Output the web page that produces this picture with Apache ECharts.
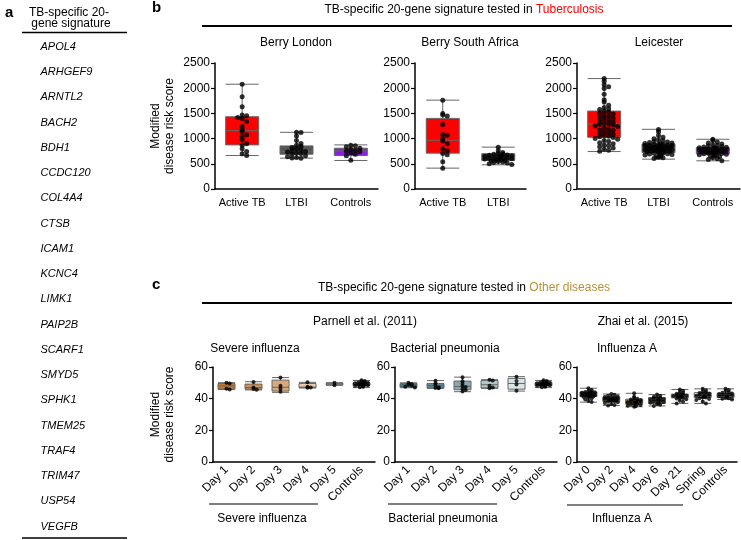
<!DOCTYPE html>
<html><head><meta charset="utf-8">
<script src="https://cdn.jsdelivr.net/npm/echarts@6/dist/echarts.min.js"></script>
<style>html,body{margin:0;padding:0;background:#fff}#chart{width:741px;height:540px}</style>
</head><body><div id="chart"></div><script>
// ---------------- DATA ----------------
const genes = ['APOL4','ARHGEF9','ARNTL2','BACH2','BDH1','CCDC120','COL4A4','CTSB','ICAM1','KCNC4','LIMK1','PAIP2B','SCARF1','SMYD5','SPHK1','TMEM25','TRAF4','TRIM47','USP54','VEGFB'];

const bYMax = 2500, bYStep = 500;
const cYMax = 60, cYStep = 20;

// Berry London
const londonCats = ['Active TB','LTBI','Controls'];
const londonBox = [[664,875,1158,1434,2079],[612,690,740,855,1125],[566,664,757,809,875]];
const londonActive = [2080,1830,1630,1470,1455,1420,1400,1340,1240,1175,1140,1075,1040,975,900,870,800,745,700,665];
const londonLTBI = [1125,1120,1050,960,905,870,850,825,800,780,760,745,735,720,705,690,660,640,625,612,615];
const londonCtrl = [870,860,840,810,790,765,750,740,720,690,660,568];

// Berry South Africa
const saCats = ['Active TB','LTBI'];
const saBox = [[414,711,967,1401,1763],[480,565,630,700,830]];
const saActive = [1760,1500,1470,1450,1280,1080,1065,1000,950,900,800,760,705,680,540,412];
const saLTBI = [830,760,725,705,695,688,676,668,660,652,646,640,633,628,621,614,607,600,594,588,581,572,563,556,548,538,527,515,500,485];

// Leicester
const leiCats = ['Active TB','LTBI','Controls'];
const leiBox = [[743,1026,1289,1546,2191],[592,724,809,895,1184],[559,697,763,822,987]];
const leiActive = [2190,2140,2070,2030,1995,1880,1770,1725,1660,1615,1590,1575,1548,1530,1505,1490,1462,1445,1430,1405,1388,1362,1345,1330,1305,1292,1284,1270,1252,1238,1215,1190,1172,1160,1138,1120,1096,1080,1062,1048,1035,1020,1002,985,962,944,920,900,875,860,838,815,790,770,748];
const leiLTBI = [1182,1135,1062,1025,995,975,958,944,932,921,912,903,896,890,883,876,870,864,858,852,847,842,836,831,826,821,816,811,806,801,796,792,787,782,777,772,767,762,757,752,746,740,734,728,722,716,709,701,693,684,675,664,652,641,630,618,606];
const leiCtrl = [985,962,935,912,893,876,862,851,842,833,826,820,814,808,802,797,792,787,782,777,773,768,764,760,755,751,746,741,736,731,726,720,715,709,703,697,690,682,673,664,652,638,621,602,585,562];

// Parnell: severe influenza
const sevCats = ['Day 1','Day 2','Day 3','Day 4','Day 5','Controls'];
const sevBox = [[45.8,46,48,49.6,50.1],[45.5,46,47,49.2,50.7],[44,44.8,47.2,51.7,53.3],[46.8,46.9,47.3,49.6,50.3],[48.4,48.8,49.3,49.7,50.1],[47,48.3,49,50,51.5]];
const sevDay1 = [50.0,49.6,46.2,45.8];
const sevDay2 = [50.6,47.0,46.1,45.6];
const sevDay3 = [53.4,48.1,46.4,44.3];
const sevDay4 = [50.3,47.6,47.0,46.9];
const sevDay5 = [50.1,48.5];
const parnellCtrl = [51.6,51.1,50.8,50.5,50.2,50.0,49.8,49.6,49.4,49.3,49.1,48.9,48.8,48.6,48.4,48.2,47.9,47.6,47.2];

// Parnell: bacterial pneumonia
const bacCats = ['Day 1','Day 2','Day 3','Day 4','Day 5','Controls'];
const bacBox = [[46.9,47.3,48.4,49.6,50.0],[46.5,46.8,48.3,49.6,51.4],[44.4,45.6,47.7,51.1,53.6],[46.5,46.8,48.8,51.5,52.0],[44.8,46.0,49.6,52.8,53.9],[47,48.3,49,50,51.5]];
const bacDay1 = [50.0,49.3,48.8,48.2,47.6,47.0];
const bacDay2 = [51.3,49.8,48.4,47.1,46.8,46.6];
const bacDay3 = [53.5,51.0,49.4,48.0,47.3,46.2,45.4,44.6];
const bacDay4 = [52.0,51.4,48.1,47.0,46.6];
const bacDay5 = [53.8,51.2,49.0,45.0];

// Zhai: influenza A
const fluCats = ['Day 0','Day 2','Day 4','Day 6','Day 21','Spring','Controls'];
const fluBox = [[37.8,41.3,42.6,44.2,46.6],[35.7,38.2,39.5,41.0,42.9],[34.9,36.5,38.0,39.7,43.4],[35.4,37.0,38.8,40.7,42.6],[37.0,40.5,41.6,42.9,45.8],[37.0,40.7,42.0,43.8,46.2],[39.5,40.7,42.0,43.4,46.2]];
const fluDay0 = [46.6,45.4,44.9,44.5,44.2,44.0,43.7,43.5,43.3,43.0,42.8,42.7,42.5,42.3,42.1,41.9,41.7,41.5,41.3,41.0,40.6,40.1,39.4,38.6,37.9];
const fluDay2 = [42.9,42.4,41.8,41.4,41.1,40.9,40.6,40.3,40.0,39.8,39.6,39.4,39.2,39.0,38.7,38.4,38.2,37.8,37.3,36.6,36.0,35.7];
const fluDay4 = [43.4,41.2,40.5,39.9,39.5,39.1,38.8,38.5,38.2,38.0,37.8,37.5,37.2,36.9,36.6,36.3,36.0,35.6,35.2,34.9];
const fluDay6 = [42.6,41.8,41.2,40.8,40.5,40.1,39.7,39.4,39.1,38.8,38.5,38.2,37.9,37.5,37.1,36.7,36.1,35.4];
const fluDay21 = [45.8,45.0,44.2,43.6,43.1,42.8,42.5,42.2,41.9,41.7,41.5,41.2,41.0,40.8,40.5,40.1,39.6,38.9,38.1,37.0];
const fluSpring = [46.2,45.3,44.6,44.0,43.6,43.2,42.9,42.6,42.3,42.0,41.8,41.5,41.2,40.9,40.7,40.3,39.8,39.1,38.2,37.0];
const fluCtrl = [46.2,45.4,44.8,44.1,43.7,43.3,43.0,42.7,42.4,42.1,41.9,41.6,41.3,41.0,40.7,40.3,39.9,39.5];

// ---------------- STYLE ----------------
const FONT = "'Liberation Sans', Arial, Helvetica, sans-serif";
const colB3 = ['#ff0000','#555555','#8b1fe0'];
const colB2 = ['#ff0000','#555555'];
const colSev = ['#c8772b','#d39150','#dba979','#ecccaa','#f6e9da','#ffffff'];
const colBac = ['#3f6d7c','#5a8796','#88a9b4','#b0c6cd','#d8e4e7','#ffffff'];
const colFlu = ['#3e3418','#7e6a36','#a58c55','#c5b187','#e0d5bc','#eee8dc','#ffffff'];

const grids = [
  {left:215, top:63, width:163, height:126},
  {left:415, top:63, width:111, height:126},
  {left:577, top:63, width:163, height:126},
  {left:213, top:367, width:162, height:95},
  {left:395, top:367, width:162, height:95},
  {left:577, top:367, width:160, height:95}
];

function swarm(vals, catIdx, bin, step, maxHalf) {
  const counts = {};
  const slots = 2 * Math.floor(maxHalf / step) + 1;
  return vals.map(v => {
    const key = Math.round(v / bin);
    const k = counts[key] = (counts[key] === undefined ? 0 : counts[key] + 1);
    const layer = Math.floor(k / slots), kk = k % slots;
    let off = kk === 0 ? 0 : (kk % 2 ? 1 : -1) * Math.ceil(kk / 2) * step;
    if (layer % 2 === 1) off += (off > 0 ? -step / 2 : step / 2);
    return {value: [catIdx, v], symbolOffset: [off, 0]};
  });
}

const panels = [
  {cats: londonCats, box: londonBox, pts: [londonActive, londonLTBI, londonCtrl], cols: colB3, b: true, name: true},
  {cats: saCats, box: saBox, pts: [saActive, saLTBI], cols: colB2, b: true},
  {cats: leiCats, box: leiBox, pts: [leiActive, leiLTBI, leiCtrl], cols: colB3, b: true},
  {cats: sevCats, box: sevBox, pts: [sevDay1, sevDay2, sevDay3, sevDay4, sevDay5, parnellCtrl], cols: colSev, b: false, name: true},
  {cats: bacCats, box: bacBox, pts: [bacDay1, bacDay2, bacDay3, bacDay4, bacDay5, parnellCtrl], cols: colBac, b: false},
  {cats: fluCats, box: fluBox, pts: [fluDay0, fluDay2, fluDay4, fluDay6, fluDay21, fluSpring, fluCtrl], cols: colFlu, b: false}
];

const xAxis = [], yAxis = [], series = [];
panels.forEach((p, i) => {
  xAxis.push({
    gridIndex: i, type: 'category', data: p.cats, boundaryGap: true,
    axisLine: {lineStyle: {color: '#000', width: 1.5}},
    axisTick: {alignWithLabel: true, length: 4, lineStyle: {color: '#000', width: 1.2}},
    axisLabel: {color: '#000', fontSize: p.b ? 11 : 12, fontFamily: FONT, interval: 0, rotate: p.b ? 0 : 45, margin: p.b ? 8 : 6},
    splitLine: {show: false}
  });
  yAxis.push({
    gridIndex: i, type: 'value', min: 0, max: p.b ? bYMax : cYMax, interval: p.b ? bYStep : cYStep,
    axisLine: {show: true, lineStyle: {color: '#000', width: 1.5}},
    axisTick: {show: true, length: 4, lineStyle: {color: '#000', width: 1.2}},
    axisLabel: {color: '#000', fontSize: 12, fontFamily: FONT, margin: 5, formatter: v => String(v)},
    splitLine: {show: false},
    name: p.name ? 'Modified\ndisease risk score' : '',
    nameLocation: 'middle', nameGap: p.b ? 38 : 36, nameRotate: 90,
    nameTextStyle: {color: '#000', fontSize: 12, fontFamily: FONT, lineHeight: 14}
  });
  const bw = p.b ? 33 : 17;
  series.push({
    type: 'boxplot', xAxisIndex: i, yAxisIndex: i, boxWidth: [bw, bw],
    itemStyle: {borderColor: '#666', borderWidth: 1},
    emphasis: {disabled: true}, silent: true,
    data: p.box.map((b, j) => ({value: b, itemStyle: {color: p.cols[j]}})),
    z: 2
  });
  const pts = [];
  p.pts.forEach((arr, j) => {
    const s = p.b ? swarm(arr, j, 85, 4.5, 14) : swarm(arr, j, 2.0, 3.2, 8);
    pts.push(...s);
  });
  series.push({
    type: 'scatter', xAxisIndex: i, yAxisIndex: i, symbol: 'circle', symbolSize: p.b ? 5 : 4,
    itemStyle: {color: '#000'}, silent: true, data: pts, z: 3
  });
});

// ---------------- TEXT / DECOR ----------------
function txt(x, y, text, size, extra) {
  return {type: 'text', x, y, silent: true,
    style: Object.assign({text, fill: '#000', fontSize: size, fontFamily: FONT, align: 'center', verticalAlign: 'middle'}, extra || {})};
}
function line(x1, y1, x2, y2, w) {
  return {type: 'line', silent: true, shape: {x1, y1, x2, y2}, style: {stroke: '#000', lineWidth: w || 1.5}};
}
const graphic = [];
graphic.push(txt(5, 13, 'a', 15, {fontWeight: 'bold', align: 'left'}));
graphic.push(txt(69, 13, 'TB-specific 20-', 12));
graphic.push(txt(71, 24, 'gene signature', 12));
graphic.push(line(22, 32.5, 127, 32.5, 1.5));
genes.forEach((g, i) => graphic.push(txt(40.5, 46.7 + i * 25.26, g, 11, {fontStyle: 'italic', align: 'left'})));
graphic.push(line(22, 538, 127, 538, 1.5));

graphic.push(txt(152, 8, 'b', 15, {fontWeight: 'bold', align: 'left'}));
graphic.push(txt(464, 10, '{n|TB-specific 20-gene signature tested in }{r|Tuberculosis}', 12,
  {rich: {n: {fill: '#000', fontSize: 12, fontFamily: FONT}, r: {fill: '#ff0000', fontSize: 12, fontFamily: FONT}}}));
graphic.push(line(202, 26, 732, 26, 2));
graphic.push(txt(296, 43, 'Berry London', 12));
graphic.push(txt(470, 43, 'Berry South Africa', 12));
graphic.push(txt(659, 43, 'Leicester', 12));

graphic.push(txt(152, 285, 'c', 15, {fontWeight: 'bold', align: 'left'}));
graphic.push(txt(464, 288, '{n|TB-specific 20-gene signature tested in }{r|Other diseases}', 12,
  {rich: {n: {fill: '#000', fontSize: 12, fontFamily: FONT}, r: {fill: '#b8923a', fontSize: 12, fontFamily: FONT}}}));
graphic.push(line(202, 303, 732, 303, 2));
graphic.push(txt(365, 322, 'Parnell et al. (2011)', 12));
graphic.push(txt(643, 322, 'Zhai et al. (2015)', 12));
graphic.push(txt(255, 349, 'Severe influenza', 12));
graphic.push(txt(445, 349, 'Bacterial pneumonia', 12));
graphic.push(txt(627, 349, 'Influenza A', 12));
graphic.push(line(209, 504, 318, 504, 1.2));
graphic.push(line(388, 504, 497, 504, 1.2));
graphic.push(line(567, 505, 683, 505, 1.2));
graphic.push(txt(262, 519, 'Severe influenza', 12));
graphic.push(txt(443, 519, 'Bacterial pneumonia', 12));
graphic.push(txt(622, 519, 'Influenza A', 12));

const chart = echarts.init(document.getElementById('chart'), null, {renderer: 'canvas'});
chart.setOption({
  animation: false,
  backgroundColor: '#fff',
  textStyle: {fontFamily: FONT},
  grid: grids,
  xAxis, yAxis, series, graphic
});
</script></body></html>
